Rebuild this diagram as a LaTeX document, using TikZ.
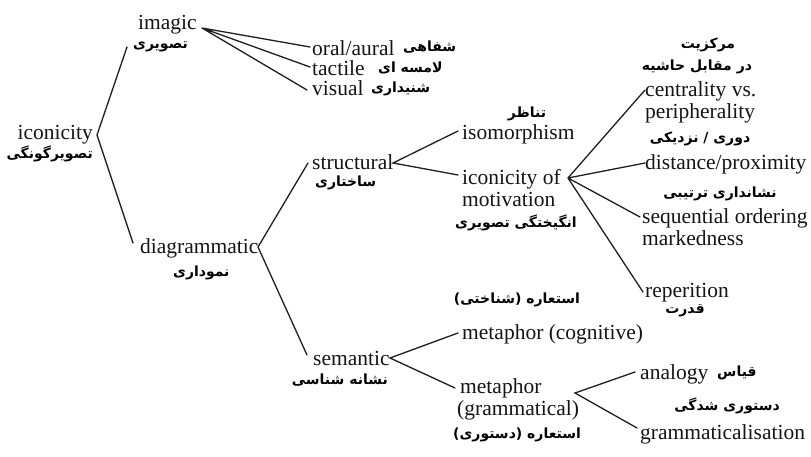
\documentclass[tikz,border=0pt]{standalone}
\usepackage{fontspec}
\setmainfont{Liberation Serif}
\newfontfamily\faf[Script=Arabic]{DejaVu Sans}
\TeXXeTstate=1
\tikzset{
  en/.style={font=\fontsize{21.5}{22}\selectfont, inner sep=0pt, text=black!92},
  fa/.style={font=\faf\bfseries\fontsize{14}{16}\selectfont, inner sep=0pt, text=black},
  br/.style={line width=1.3pt, draw=black!88, line cap=round},
}
\begin{document}
\begin{tikzpicture}[x=1pt,y=1pt]
\useasboundingbox (0,0) rectangle (811,-457);
% level 0
\node[en, anchor=base east] (iconicity) at (93,-140) {iconicity};
\node[fa, anchor=base east] (iconicityfa) at (93,-159) {\beginR تصویرگونگی\endR};
% imagic branch
\node[en, anchor=base west] (imagic) at (138,-30) {imagic};
\node[fa, anchor=base west] (imagicfa) at (133,-49) {\beginR تصویری\endR};
\node[en, anchor=base west] (oral) at (312,-56) {oral/aural};
\node[fa, anchor=base west] (oralfa) at (403,-52) {\beginR شفاهی\endR};
\node[en, anchor=base west] (tactile) at (312,-76) {tactile};
\node[fa, anchor=base west] (tactilefa) at (378,-73) {\beginR لامسه ای\endR};
\node[en, anchor=base west] (visual) at (312,-96) {visual};
\node[fa, anchor=base west] (visualfa) at (371,-93) {\beginR شنیداری\endR};
% diagrammatic branch
\node[en, anchor=base west] (diag) at (140,-254) {diagrammatic};
\node[fa, anchor=base west] (diagfa) at (173,-276) {\beginR نموداری\endR};
\node[en, anchor=base west] (struct) at (312,-170) {structural};
\node[fa, anchor=base west] (structfa) at (315,-187) {\beginR ساختاری\endR};
\node[en, anchor=base west] (sem) at (313,-365) {semantic};
\node[fa, anchor=base east] (semfa) at (388,-384) {\beginR نشانه شناسی\endR};
% structural children
\node[fa, anchor=base] (isofa) at (527,-118) {\beginR تناظر\endR};
\node[en, anchor=base west] (iso) at (462,-140) {isomorphism};
\node[en, anchor=base west] (motiv1) at (462,-185) {iconicity of};
\node[en, anchor=base west] (motiv2) at (462,-207) {motivation};
\node[fa, anchor=base west] (motivfa) at (455,-228) {\beginR انگیختگی تصویری\endR};
% motivation children
\node[fa, anchor=base] (centfa1) at (708,-49) {\beginR مرکزیت\endR};
\node[fa, anchor=base] (centfa2) at (697,-71) {\beginR در مقابل حاشیه\endR};
\node[en, anchor=base west] (cent1) at (645,-97) {centrality vs.};
\node[en, anchor=base west] (cent2) at (645,-119) {peripherality};
\node[fa, anchor=base] (distfa) at (700,-143) {\beginR دوری / نزدیکی\endR};
\node[en, anchor=base west] (dist) at (645,-170) {distance/proximity};
\node[fa, anchor=base] (seqfa) at (720,-197) {\beginR نشانداری ترتیبی\endR};
\node[en, anchor=base west] (seq1) at (642,-224) {sequential ordering};
\node[en, anchor=base west] (seq2) at (642,-245) {markedness};
\node[en, anchor=base west] (rep) at (645,-297) {reperition};
\node[fa, anchor=base] (repfa) at (685,-313) {\beginR قدرت\endR};
% semantic children
\node[fa, anchor=base] (metcfa) at (517,-303) {\beginR استعاره (شناختی)\endR};
\node[en, anchor=base west] (metc) at (462,-339) {metaphor (cognitive)};
\node[en, anchor=base west] (metg1) at (460,-393) {metaphor};
\node[en, anchor=base west] (metg2) at (457,-415) {(grammatical)};
\node[fa, anchor=base west] (metgfa) at (453,-438) {\beginR استعاره (دستوری)\endR};
\node[en, anchor=base west] (ana) at (640,-379) {analogy};
\node[fa, anchor=base west] (anafa) at (717,-376) {\beginR قیاس\endR};
\node[fa, anchor=base] (gramfa) at (727,-410) {\beginR دستوری شدگی\endR};
\node[en, anchor=base west] (gram) at (640,-439) {grammaticalisation};
% vertices and ends
\coordinate (v0) at (97,-135);
\coordinate (v0a) at (127,-47);
\coordinate (v0b) at (133,-243);
\coordinate (v1) at (202,-28);
\coordinate (v1a) at (310,-47);
\coordinate (v1b) at (310,-67);
\coordinate (v1c) at (307,-90);
\coordinate (v2) at (258,-247);
\coordinate (v2a) at (308,-163);
\coordinate (v2b) at (307,-355);
\coordinate (v3) at (393,-163);
\coordinate (v3a) at (458,-131);
\coordinate (v3b) at (458,-175);
\coordinate (v4) at (568,-178);
\coordinate (v4a) at (645,-90);
\coordinate (v4b) at (645,-163);
\coordinate (v4c) at (640,-217);
\coordinate (v4d) at (643,-292);
\coordinate (v5) at (390,-358);
\coordinate (v5a) at (458,-333);
\coordinate (v5b) at (455,-388);
\coordinate (v6) at (575,-393);
\coordinate (v6a) at (635,-372);
\coordinate (v6b) at (637,-428);
\draw[br] (v0a) -- (v0) -- (v0b);
\draw[br] (v1) -- (v1a) (v1) -- (v1b) (v1) -- (v1c);
\draw[br] (v2a) -- (v2) -- (v2b);
\draw[br] (v3a) -- (v3) -- (v3b);
\draw[br] (v4) -- (v4a) (v4) -- (v4b) (v4) -- (v4c) (v4) -- (v4d);
\draw[br] (v5a) -- (v5) -- (v5b);
\draw[br] (v6a) -- (v6) -- (v6b);
\end{tikzpicture}
\end{document}
